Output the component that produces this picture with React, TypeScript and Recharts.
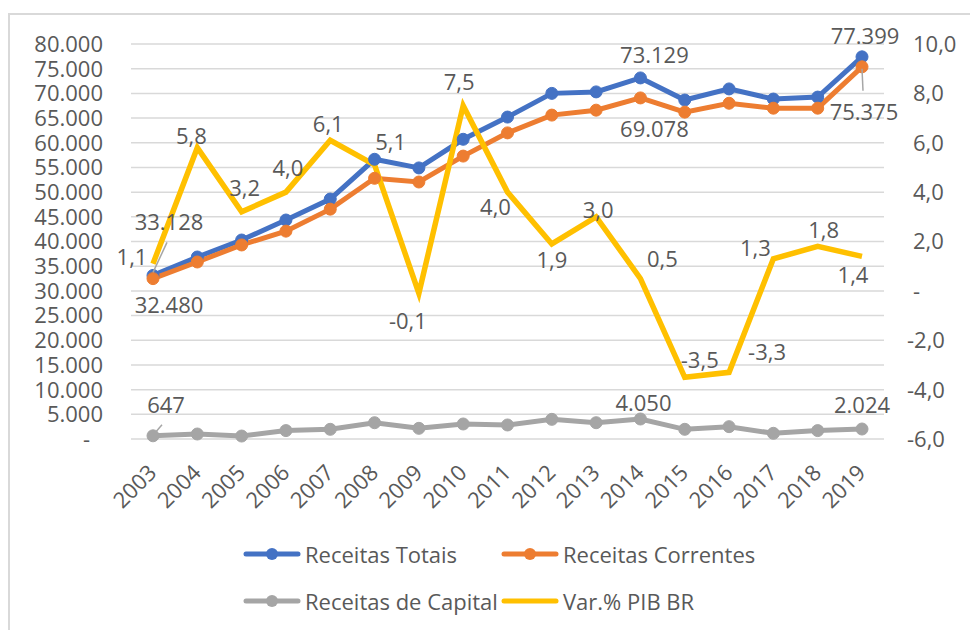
import React from 'react';
import { LineChart, Line, XAxis, YAxis, CartesianGrid, Legend } from 'recharts';

const years = ['2003', '2004', '2005', '2006', '2007', '2008', '2009', '2010', '2011', '2012', '2013', '2014', '2015', '2016', '2017', '2018', '2019'];
const receitasTotais = [33128, 36860, 40300, 44350, 48600, 56650, 54900, 60700, 65200, 70000, 70300, 73129, 68650, 70900, 68850, 69250, 77399];
const receitasCorrentes = [32480, 35850, 39300, 42100, 46550, 52800, 52050, 57300, 62000, 65600, 66600, 69078, 66200, 68000, 67000, 67000, 75375];
const receitasCapital = [647, 1010, 600, 1700, 1960, 3300, 2160, 3040, 2840, 3980, 3300, 4050, 1960, 2500, 1150, 1700, 2024];
const pibVar = [1.1, 5.8, 3.2, 4.0, 6.1, 5.1, -0.1, 7.5, 4.0, 1.9, 3.0, 0.5, -3.5, -3.3, 1.3, 1.8, 1.4];

const leftTicks = [0, 5000, 10000, 15000, 20000, 25000, 30000, 35000, 40000, 45000, 50000, 55000, 60000, 65000, 70000, 75000, 80000];
const rightTicks = [-6, -4, -2, 0, 2, 4, 6, 8, 10];

const seriesNames = ['Receitas Totais', 'Receitas Correntes', 'Receitas de Capital', 'Var.% PIB BR'];

const data = years.map((year, i) => ({
  year,
  totais: receitasTotais[i],
  correntes: receitasCorrentes[i],
  capital: receitasCapital[i],
  pib: pibVar[i],
}));

const BLUE = '#4472C4';
const ORANGE = '#ED7D31';
const GRAY = '#A5A5A5';
const YELLOW = '#FFC000';
const TEXT = '#595959';
const FONT = '"Open Sans", "Noto Sans", sans-serif';
const FS = 22;

const fmtInt = (v: number) => Math.round(v).toString().replace(/\B(?=(\d{3})+(?!\d))/g, '.');
const fmtDec = (v: number) => v.toFixed(1).replace('.', ',');

type Place = { dx: number; dy: number; leader?: [number, number, number, number] };

// label placements relative to each point (index -> offset of label centre)
const totaisPlaces: Record<number, Place> = {
  0: { dx: 16, dy: -53, leader: [0, -3, 14, -33] },
  11: { dx: 14, dy: -23 },
  16: { dx: 3, dy: -21 },
};
const correntesPlaces: Record<number, Place> = {
  0: { dx: 16, dy: 26 },
  11: { dx: 14, dy: 31 },
  16: { dx: 2, dy: 45, leader: [0, 2, 1, 24] },
};
const capitalPlaces: Record<number, Place> = {
  0: { dx: 13, dy: -31, leader: [3, -4, 9, -11] },
  11: { dx: 3, dy: -16 },
  16: { dx: 0, dy: -24 },
};
const pibPlaces: Record<number, Place> = {
  0: { dx: -21, dy: -7 },
  1: { dx: -6, dy: -12 },
  2: { dx: 3, dy: -24 },
  3: { dx: 2, dy: -24 },
  4: { dx: -2, dy: -16 },
  5: { dx: 16, dy: -23 },
  6: { dx: -11, dy: 28 },
  7: { dx: -4, dy: -24 },
  8: { dx: -12, dy: 15 },
  9: { dx: 0, dy: 16 },
  10: { dx: 2, dy: -7 },
  11: { dx: 22, dy: -19 },
  12: { dx: 15, dy: -17 },
  13: { dx: 38, dy: -20 },
  14: { dx: -18, dy: -11 },
  15: { dx: 6, dy: -16 },
  16: { dx: -9, dy: 19 },
};

const makeLabel = (places: Record<number, Place>, fmt: (v: number) => string) => (props: any) => {
  const index = props.index;
  const p = places[index];
  if (!p) return null;
  const x = props.x ?? props.viewBox?.x;
  const y = props.y ?? props.viewBox?.y;
  if (x == null || y == null) return null;
  return (
    <g key={`lbl-${index}`}>
      {p.leader && (
        <line
          x1={x + p.leader[0]}
          y1={y + p.leader[1]}
          x2={x + p.leader[2]}
          y2={y + p.leader[3]}
          stroke="#A6A6A6"
          strokeWidth={1.5}
        />
      )}
      <text
        x={x + p.dx}
        y={y + p.dy}
        dy="0.36em"
        textAnchor="middle"
        fill={TEXT}
        fontSize={FS}
        fontFamily={FONT}
      >
        {fmt(props.value)}
      </text>
    </g>
  );
};

const LeftTick = (props: any) => {
  const { x, y, payload } = props;
  const v = payload.value;
  return (
    <text x={v === 0 ? x - 13 : x} y={y} dy="0.36em" textAnchor="end" fill={TEXT} fontSize={FS} fontFamily={FONT}>
      {v === 0 ? '-' : fmtInt(v)}
    </text>
  );
};

const RightTick = (props: any) => {
  const { x, y, payload } = props;
  const v = payload.value;
  return (
    <text x={v < 0 ? x - 6 : x} y={y} dy="0.36em" textAnchor="start" fill={TEXT} fontSize={FS} fontFamily={FONT}>
      {v === 0 ? '-' : fmtDec(v)}
    </text>
  );
};

const XTick = (props: any) => {
  const { x, y, payload } = props;
  return (
    <g transform={`translate(${x + 5},${y + 35})`}>
      <text x={0} y={0} textAnchor="end" fill={TEXT} fontSize={FS} fontFamily={FONT} transform="rotate(-45)">
        {payload.value}
      </text>
    </g>
  );
};

const legendItems = [
  { name: seriesNames[0], color: BLUE, marker: true },
  { name: seriesNames[1], color: ORANGE, marker: true },
  { name: seriesNames[2], color: GRAY, marker: true },
  { name: seriesNames[3], color: YELLOW, marker: false },
];
const legendCols = [243, 501];
const legendRows = [19, 66];

const renderLegend = () => (
  <div style={{ position: 'relative', width: 970, height: 95 }}>
    {legendItems.map((it, i) => (
      <div
        key={it.name}
        style={{
          position: 'absolute',
          left: legendCols[i % 2],
          top: legendRows[Math.floor(i / 2)] - 15,
          height: 30,
          display: 'flex',
          alignItems: 'center',
          whiteSpace: 'nowrap',
        }}
      >
        <svg width={58} height={30} style={{ display: 'block' }}>
          <line x1={3} y1={15} x2={55} y2={15} stroke={it.color} strokeWidth={5} strokeLinecap="round" />
          {it.marker && <circle cx={29} cy={15} r={6} fill={it.color} />}
        </svg>
        <span style={{ marginLeft: 4, fontSize: FS, color: TEXT, fontFamily: FONT, lineHeight: '30px' }}>{it.name}</span>
      </div>
    ))}
  </div>
);

export default function App() {
  return (
    <div style={{ position: 'absolute', left: 0, top: 0, width: 970, height: 630, overflow: 'hidden', background: '#fff' }}>
      <div
        style={{
          position: 'absolute',
          left: 8,
          top: 13,
          width: 1000,
          height: 700,
          border: '2px solid #D9D9D9',
          boxSizing: 'border-box',
        }}
      />
      <div style={{ position: 'absolute', left: 0, top: 0 }}>
        <LineChart width={970} height={630} data={data} margin={{ top: 44, right: 0, bottom: 0, left: 0 }}>
          <CartesianGrid yAxisId="left" vertical={false} stroke="#D9D9D9" strokeWidth={1.5} />
          <XAxis
            dataKey="year"
            axisLine={false}
            tickLine={false}
            tickSize={0}
            tickMargin={0}
            height={96}
            interval={0}
            padding={{ left: 22, right: 22 }}
            tick={<XTick />}
          />
          <YAxis
            yAxisId="left"
            orientation="left"
            width={131}
            domain={[0, 80000]}
            ticks={leftTicks}
            axisLine={false}
            tickLine={false}
            tickSize={0}
            tickMargin={28}
            interval={0}
            tick={<LeftTick />}
          />
          <YAxis
            yAxisId="right"
            orientation="right"
            width={86}
            domain={[-6, 10]}
            ticks={rightTicks}
            axisLine={false}
            tickLine={false}
            tickSize={0}
            tickMargin={29}
            interval={0}
            tick={<RightTick />}
          />
          <Legend
            verticalAlign="bottom"
            content={renderLegend}
            wrapperStyle={{ left: 0, width: 970, height: 95 }}
          />
          <Line
            yAxisId="left"
            dataKey="totais"
            name={seriesNames[0]}
            stroke={BLUE}
            strokeWidth={5}
            dot={{ r: 6, fill: BLUE, stroke: BLUE, strokeWidth: 1 }}
            activeDot={false}
            isAnimationActive={false}
            label={makeLabel(totaisPlaces, fmtInt)}
          />
          <Line
            yAxisId="left"
            dataKey="correntes"
            name={seriesNames[1]}
            stroke={ORANGE}
            strokeWidth={5}
            dot={{ r: 6, fill: ORANGE, stroke: ORANGE, strokeWidth: 1 }}
            activeDot={false}
            isAnimationActive={false}
            label={makeLabel(correntesPlaces, fmtInt)}
          />
          <Line
            yAxisId="left"
            dataKey="capital"
            name={seriesNames[2]}
            stroke={GRAY}
            strokeWidth={5}
            dot={{ r: 6, fill: GRAY, stroke: GRAY, strokeWidth: 1 }}
            activeDot={false}
            isAnimationActive={false}
            label={makeLabel(capitalPlaces, fmtInt)}
          />
          <Line
            yAxisId="right"
            dataKey="pib"
            name={seriesNames[3]}
            stroke={YELLOW}
            strokeWidth={5.5}
            dot={false}
            activeDot={false}
            isAnimationActive={false}
            label={makeLabel(pibPlaces, fmtDec)}
          />
        </LineChart>
      </div>
    </div>
  );
}
